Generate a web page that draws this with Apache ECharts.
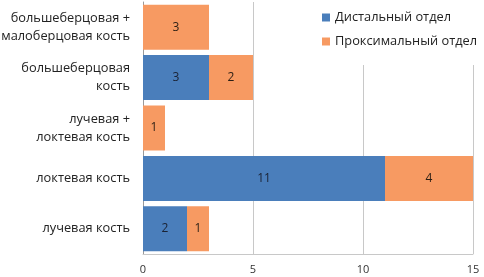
<!DOCTYPE html>
<html>
<head>
<meta charset="utf-8">
<script src="https://cdn.jsdelivr.net/npm/echarts@6/dist/echarts.min.js"></script>
<style>
  html, body { margin: 0; padding: 0; background: #fff; }
  #main { width: 484px; height: 277px; }
</style>
</head>
<body>
<div id="main"></div>
<script>
// категории снизу вверх
const categories = [
  'лучевая кость',
  'локтевая кость',
  'лучевая +\nлоктевая кость',
  'большеберцовая\nкость',
  'большеберцовая +\nмалоберцовая кость'
];
const distal = [2, 11, 0, 3, 0];
const proximal = [1, 4, 1, 2, 3];
const xTicks = { min: 0, max: 15, interval: 5 };

const font = '"Open Sans", "Noto Sans", sans-serif';

const labelFmt = (p) => (p.value ? String(p.value) : '');

let chart = echarts.init(document.getElementById('main'));
let option = {
  animation: false,
  textStyle: { fontFamily: font },
  grid: { left: 143, right: 11, top: 2, bottom: 23, outerBoundsMode: 'none', containLabel: false },
  legend: {
    orient: 'vertical',
    left: 316,
    top: 0,
    padding: [11, 10, 17, 6],
    itemGap: 11,
    itemWidth: 8,
    itemHeight: 8,
    icon: 'rect',
    backgroundColor: '#fff',
    z: 10,
    textStyle: { fontSize: 12.8, color: '#222', fontFamily: font },
    data: ['Дистальный отдел', 'Проксимальный отдел']
  },
  xAxis: {
    type: 'value',
    min: xTicks.min,
    max: xTicks.max,
    interval: xTicks.interval,
    axisLine: { show: true, lineStyle: { color: '#c8c8c8' } },
    axisTick: { show: false },
    axisLabel: { fontSize: 11, color: '#333', margin: 10, fontFamily: font },
    splitLine: { show: true, lineStyle: { color: '#c8c8c8' } }
  },
  yAxis: {
    type: 'category',
    data: categories,
    axisLine: { show: true, lineStyle: { color: '#9a9a9a' } },
    axisTick: { show: false },
    axisLabel: {
      fontSize: 12.8,
      color: '#222',
      margin: 13,
      lineHeight: 18,
      align: 'right',
      fontFamily: font
    }
  },
  series: [
    {
      name: 'Дистальный отдел',
      type: 'bar',
      stack: 'total',
      barWidth: 45,
      data: distal,
      itemStyle: { color: '#4a7ebb' },
      label: { show: true, position: 'inside', color: '#1a2233', fontSize: 12, formatter: labelFmt, fontFamily: font }
    },
    {
      name: 'Проксимальный отдел',
      type: 'bar',
      stack: 'total',
      barWidth: 45,
      data: proximal,
      itemStyle: { color: '#f79a62' },
      label: { show: true, position: 'inside', color: '#2a1e14', fontSize: 12, formatter: labelFmt, fontFamily: font }
    }
  ]
};
option && chart.setOption(option);
</script>
</body>
</html>
